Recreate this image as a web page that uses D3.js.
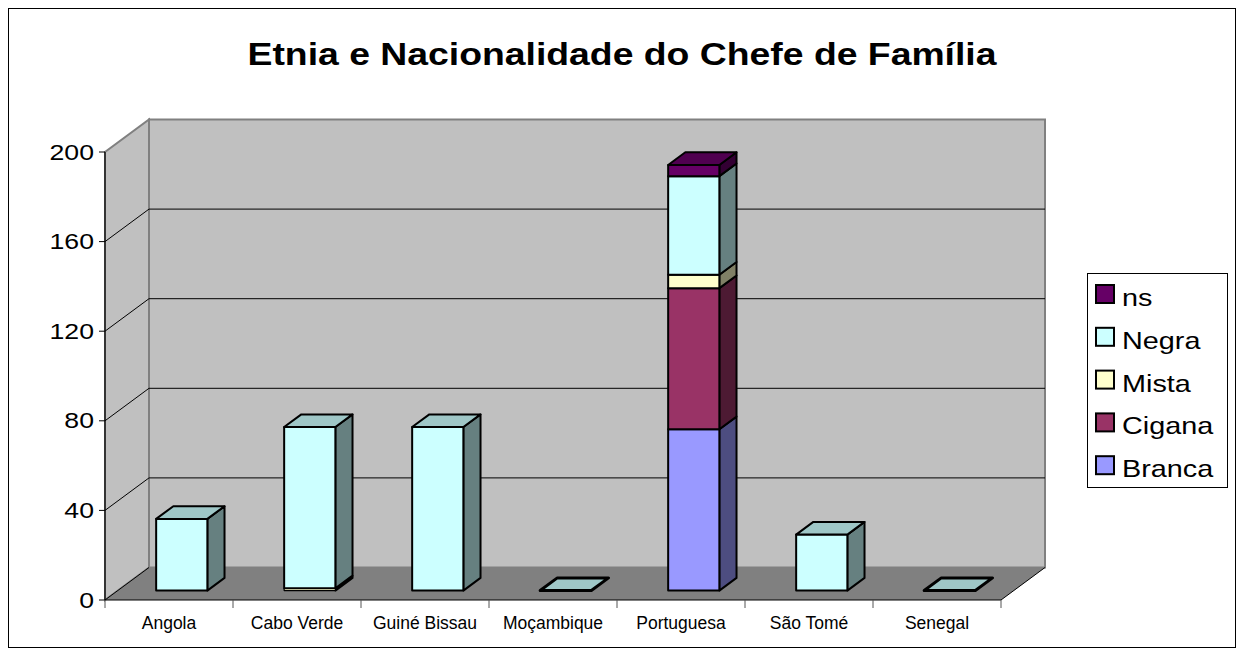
<!DOCTYPE html>
<html>
<head>
<meta charset="utf-8">
<script src="https://cdn.jsdelivr.net/npm/d3@7"></script>
<style>
	body { margin: 0; background: #fff; }
	text { font-family: Arial, "Liberation Sans", sans-serif; }
</style>
</head>
<body>
<svg width="1240" height="655"></svg>
<script>
var title = 'Etnia e Nacionalidade do Chefe de Família'
var countries = ['Angola', 'Cabo Verde', 'Guiné Bissau', 'Moçambique', 'Portuguesa', 'São Tomé', 'Senegal']
var seriesNames = ['Branca', 'Cigana', 'Mista', 'Negra', 'ns']
var seriesColors = ['#9999FF', '#993366', '#FFFFCC', '#CCFFFF', '#660066']
// null = no value for that country
var branca = [null, null, null, null, 72, null, null]
var cigana = [null, null, null, null, 63, null, null]
var mista  = [null, 1, null, null, 6, null, null]
var negra  = [32, 72, 73, 0, 44, 25, 0]
var ns     = [null, null, null, null, 5, null, null]
var yTicks = [0, 40, 80, 120, 160, 200]

var values = [branca, cigana, mista, negra, ns]

var svg = d3.select('svg')

// 3d-ish geometry
var depthX = 44, depthY = -32.5
var barD0 = 0.29, barD1 = 0.68
var textStretch = 1.24

var x = d3.scaleBand().domain(countries).range([105, 1001]).paddingInner(0.6).paddingOuter(0.3)
var xCat = d3.scaleBand().domain(countries).range([105, 1001])
var y = d3.scaleLinear().domain([0, 200]).range([600, 152])

function pt(px, v, d) {
	return [px + depthX * d, y(v) + depthY * d]
}
function poly(pts) {
	return pts.map(function(p) { return p[0] + ',' + p[1] }).join(' ')
}
function shade(c, k) {
	var col = d3.rgb(c)
	return d3.rgb(col.r * k, col.g * k, col.b * k).formatHex()
}

// chart border
svg.append('rect').attr('x', 8.5).attr('y', 8.5).attr('width', 1227).attr('height', 639)
	.attr('fill', '#fff').attr('stroke', '#000').attr('stroke-width', 1)

var x0 = xCat.range()[0], x1 = xCat.range()[1]
var walls = svg.append('g')

// floor
walls.append('polygon')
	.attr('points', poly([pt(x0, 0, 0), pt(x1, 0, 0), pt(x1, 0, 1), pt(x0, 0, 1)]))
	.attr('fill', '#808080')
// back wall
walls.append('polygon')
	.attr('points', poly([pt(x0, 0, 1), pt(x1, 0, 1), pt(x1, 200, 1), pt(x0, 200, 1)]))
	.attr('fill', '#C0C0C0').attr('stroke', '#808080').attr('stroke-width', 2)
// side wall
walls.append('polygon')
	.attr('points', poly([pt(x0, 0, 0), pt(x0, 0, 1), pt(x0, 200, 1), pt(x0, 200, 0)]))
	.attr('fill', '#C0C0C0').attr('stroke', '#808080').attr('stroke-width', 2)

// gridlines
yTicks.filter(function(t) { return t > 0 && t < 200 }).forEach(function(t) {
	var a = pt(x0, t, 0), b = pt(x0, t, 1), c = pt(x1, t, 1)
	walls.append('polyline').attr('points', poly([a, b, c]))
		.attr('fill', 'none').attr('stroke', '#000').attr('stroke-width', 1)
})

// floor edges
walls.append('line').attr('x1', x0).attr('y1', y(0)).attr('x2', x1).attr('y2', y(0))
	.attr('stroke', '#000').attr('stroke-width', 1.2)
var fr = pt(x1, 0, 1)
walls.append('line').attr('x1', x1).attr('y1', y(0)).attr('x2', fr[0]).attr('y2', fr[1])
	.attr('stroke', '#000').attr('stroke-width', 1)
var fl = pt(x0, 0, 1)
walls.append('line').attr('x1', x0).attr('y1', y(0)).attr('x2', fl[0]).attr('y2', fl[1])
	.attr('stroke', '#000').attr('stroke-width', 1)

// y axis
walls.append('line').attr('x1', x0).attr('y1', y(0)).attr('x2', x0).attr('y2', y(200))
	.attr('stroke', '#000').attr('stroke-width', 1.2)
yTicks.forEach(function(t) {
	walls.append('line').attr('x1', x0 - 6).attr('y1', y(t)).attr('x2', x0).attr('y2', y(t))
		.attr('stroke', '#000')
	walls.append('g').attr('transform', 'translate(94,' + (y(t) + 7.5) + ') scale(' + textStretch + ',1)')
		.append('text').attr('text-anchor', 'end').attr('font-size', 21.5).text(t)
})

// x ticks + labels
countries.forEach(function(c, i) {
	walls.append('line').attr('x1', xCat(c)).attr('y1', y(0)).attr('x2', xCat(c)).attr('y2', y(0) + 8)
		.attr('stroke', '#555')
	walls.append('text').attr('x', xCat(c) + xCat.bandwidth() / 2).attr('y', 629)
		.attr('text-anchor', 'middle').attr('font-size', 17.5).text(c)
})
walls.append('line').attr('x1', x1).attr('y1', y(0)).attr('x2', x1).attr('y2', y(0) + 8)
	.attr('stroke', '#555')

// bars
var bars = svg.append('g')
countries.forEach(function(c, i) {
	var bx = x(c), bw = x.bandwidth()
	var base = 0
	var top = -1
	values.forEach(function(s, k) { if (s[i] !== null) top = k })
	values.forEach(function(s, k) {
		var v = s[i]
		if (v === null) return
		var lo = base, hi = base + v
		base = hi
		var col = seriesColors[k]
		if (v > 0) {
			// side face
			bars.append('polygon')
				.attr('points', poly([pt(bx + bw, lo, barD0), pt(bx + bw, lo, barD1), pt(bx + bw, hi, barD1), pt(bx + bw, hi, barD0)]))
				.attr('fill', shade(col, 0.5)).attr('stroke', '#000').attr('stroke-width', 2).attr('stroke-linejoin', 'round')
			// front face
			bars.append('polygon')
				.attr('points', poly([pt(bx, lo, barD0), pt(bx + bw, lo, barD0), pt(bx + bw, hi, barD0), pt(bx, hi, barD0)]))
				.attr('fill', col).attr('stroke', '#000').attr('stroke-width', v < 2 ? 1.2 : 2).attr('stroke-linejoin', 'round')
		}
		if (k === top) {
			bars.append('polygon')
				.attr('points', poly([pt(bx, hi, barD0), pt(bx + bw, hi, barD0), pt(bx + bw, hi, barD1), pt(bx, hi, barD1)]))
				.attr('fill', shade(col, 0.78)).attr('stroke', '#000')
				.attr('stroke-width', v > 0 ? 2 : 3).attr('stroke-linejoin', 'round')
		}
	})
})

// title
svg.append('g').attr('transform', 'translate(622,65) scale(1.167,1)')
	.append('text').attr('text-anchor', 'middle').attr('font-size', 32).attr('font-weight', 'bold')
	.text(title)

// legend (reversed order like excel)
var legend = svg.append('g')
legend.append('rect').attr('x', 1087.5).attr('y', 273.5).attr('width', 140).attr('height', 214)
	.attr('fill', '#fff').attr('stroke', '#000')
seriesNames.slice().reverse().forEach(function(name, j) {
	var k = seriesNames.length - 1 - j
	var by = 306 + j * 42.8
	legend.append('rect').attr('x', 1096).attr('y', by - 21).attr('width', 18).attr('height', 18)
		.attr('fill', seriesColors[k]).attr('stroke', '#000').attr('stroke-width', 2)
	legend.append('g').attr('transform', 'translate(1122,' + by + ') scale(1.2,1)')
		.append('text').attr('font-size', 24).text(name)
})
</script>
</body>
</html>
